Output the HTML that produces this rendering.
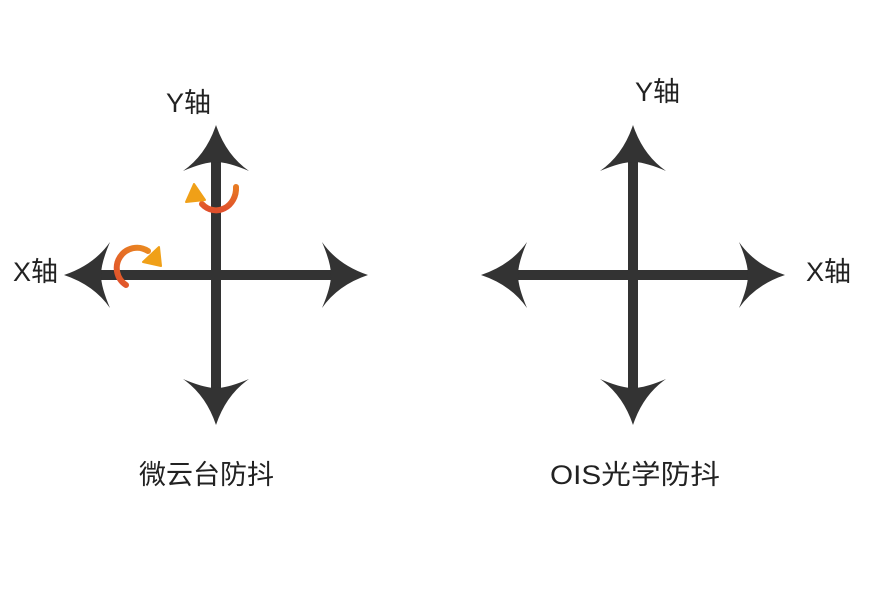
<!DOCTYPE html>
<html><head><meta charset="utf-8"><style>
html,body{margin:0;padding:0;background:#fff;}
svg{display:block}
text{font-family:"Liberation Sans","Noto Sans CJK SC",sans-serif;fill:#222;font-size:27px}
</style></head><body>
<svg width="885" height="590" viewBox="0 0 885 590" xmlns="http://www.w3.org/2000/svg">
<defs>
<linearGradient id="g1" x1="0" y1="1" x2="0" y2="0"><stop offset="0" stop-color="#e0502c"/><stop offset="1" stop-color="#e87a22"/></linearGradient>
<linearGradient id="g2" x1="0" y1="1" x2="1" y2="0"><stop offset="0" stop-color="#e0502c"/><stop offset="1" stop-color="#ea8a20"/></linearGradient>
<path id="ah" d="M0,0 Q-10,30 -33,46 Q-12,37 0,37 Q12,37 33,46 Q10,30 0,0Z" fill="#333"/>
<g id="cross">
<rect x="-5" y="-130" width="10" height="260" fill="#333"/>
<rect x="-130" y="-5" width="260" height="10" fill="#333"/>
<use href="#ah" transform="translate(0,-150)"/>
<use href="#ah" transform="translate(0,150) rotate(180)"/>
<use href="#ah" transform="translate(-152,0) rotate(-90)"/>
<use href="#ah" transform="translate(152,0) rotate(90)"/>
</g>
</defs>
<use href="#cross" transform="translate(216,275)"/>
<use href="#cross" transform="translate(633,275)"/>
<!-- Y rotation arrow -->
<path d="M236,187 A20,22 0 0 1 202,204" fill="none" stroke="url(#g1)" stroke-width="6" stroke-linecap="round"/>
<path d="M194,184 L186,202 L205,200Z" fill="#f0a018" stroke="#f0a018" stroke-width="2" stroke-linejoin="round"/>
<!-- X rotation arrow -->
<path d="M126,285 A20,20 0 0 1 148,251" fill="none" stroke="url(#g2)" stroke-width="6" stroke-linecap="round"/>
<path d="M159,247 L161,266 L143,262Z" fill="#f0a018" stroke="#f0a018" stroke-width="2" stroke-linejoin="round"/>
<text x="166" y="112">Y轴</text>
<text x="13" y="281">X轴</text>
<text x="635" y="101">Y轴</text>
<text x="806" y="281">X轴</text>
<text x="139" y="484">微云台防抖</text>
<text x="550" y="484" textLength="170" lengthAdjust="spacingAndGlyphs">OIS光学防抖</text>
</svg>
</body></html>
